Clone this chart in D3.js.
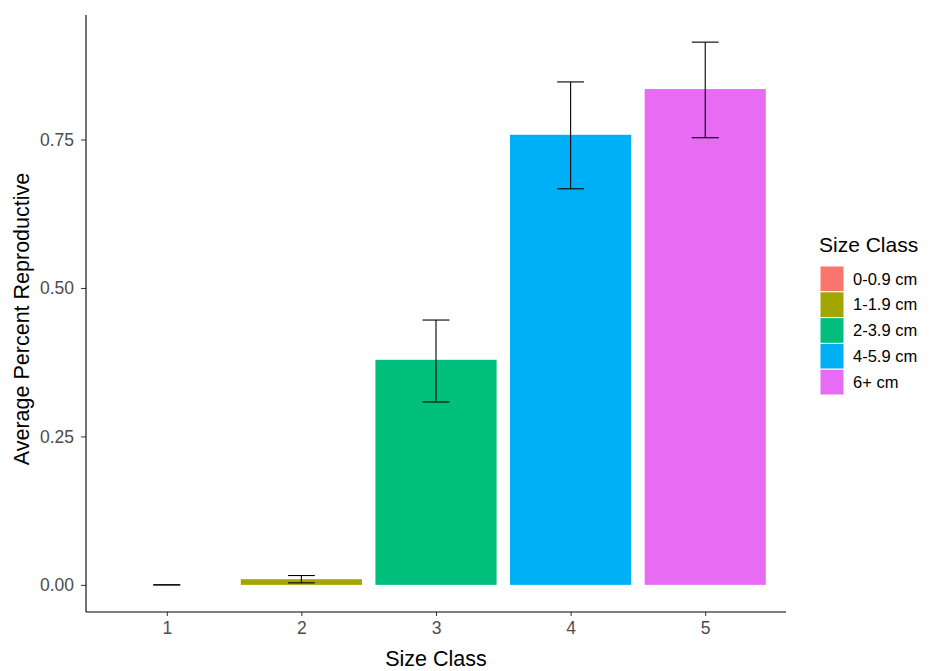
<!DOCTYPE html>
<html>
<head>
<meta charset="utf-8">
<script src="https://cdn.jsdelivr.net/npm/d3@7"></script>
<style>
  body { margin: 0; background: #fff; }
  text { font-family: "Liberation Sans", Arial, sans-serif; }
</style>
</head>
<body>
<svg></svg>
<script>
// size classes on the x axis and in the legend
var classes = ["1", "2", "3", "4", "5"];
var classLabels = ["0-0.9 cm", "1-1.9 cm", "2-3.9 cm", "4-5.9 cm", "6+ cm"];
// average percent reproductive, with lower / upper error bar ends
var means = [0, 0.0095, 0.379, 0.758, 0.835];
var lower = [0, 0.0034, 0.308, 0.667, 0.753];
var upper = [0, 0.0157, 0.446, 0.847, 0.914];
var yTicks = [0, 0.25, 0.5, 0.75];
var colors = ["#F8766D", "#A3A500", "#00BF7D", "#00B0F6", "#E76BF3"];

var svgWidth = 939, svgHeight = 671;
var panel = {left: 86, right: 786, top: 15, bottom: 612};

var svg = d3.select("svg")
    .attr("width", svgWidth)
    .attr("height", svgHeight);

// discrete x scale, with ggplot's 0.6 unit padding on both sides
var xScale = d3.scaleLinear()
    .domain([0.4, classes.length + 0.6])
    .range([panel.left, panel.right]);

// y scale expanded 5% past the data range
var yMax = d3.max(upper);
var pad = yMax * 0.05;
var yScale = d3.scaleLinear()
    .domain([-pad, yMax + pad])
    .range([panel.bottom, panel.top]);

var barW = 0.9, capW = 0.2;

// bars
svg.selectAll("rect.bar")
    .data(means)
    .enter()
    .append("rect")
    .attr("class", "bar")
    .attr("x", function(d, i) { return xScale(i + 1 - barW / 2); })
    .attr("width", function() { return xScale(barW) - xScale(0); })
    .attr("y", function(d) { return yScale(d); })
    .attr("height", function(d) { return yScale(0) - yScale(d); })
    .attr("fill", function(d, i) { return colors[i]; });

// error bars
var err = svg.selectAll("g.err")
    .data(means)
    .enter()
    .append("g")
    .attr("class", "err")
    .attr("stroke", "#000")
    .attr("stroke-width", 1.1)
    .attr("fill", "none");

err.append("line")
    .attr("x1", function(d, i) { return xScale(i + 1); })
    .attr("x2", function(d, i) { return xScale(i + 1); })
    .attr("y1", function(d, i) { return yScale(lower[i]); })
    .attr("y2", function(d, i) { return yScale(upper[i]); });
err.append("line")
    .attr("x1", function(d, i) { return xScale(i + 1 - capW / 2); })
    .attr("x2", function(d, i) { return xScale(i + 1 + capW / 2); })
    .attr("y1", function(d, i) { return yScale(upper[i]); })
    .attr("y2", function(d, i) { return yScale(upper[i]); });
err.append("line")
    .attr("x1", function(d, i) { return xScale(i + 1 - capW / 2); })
    .attr("x2", function(d, i) { return xScale(i + 1 + capW / 2); })
    .attr("y1", function(d, i) { return yScale(lower[i]); })
    .attr("y2", function(d, i) { return yScale(lower[i]); });

// axes
var xAxis = d3.axisBottom(xScale)
    .tickValues(classes.map(Number))
    .tickFormat(function(d) { return classes[d - 1]; })
    .tickSize(4).tickPadding(4);
var yAxis = d3.axisLeft(yScale)
    .tickValues(yTicks)
    .tickFormat(d3.format(".2f"))
    .tickSize(5).tickPadding(7);

var gx = svg.append("g")
    .attr("transform", "translate(0," + panel.bottom + ")")
    .call(xAxis);
var gy = svg.append("g")
    .attr("transform", "translate(" + panel.left + ",0)")
    .call(yAxis);

[gx, gy].forEach(function(g) {
    g.select(".domain").remove();
    g.selectAll(".tick line").attr("stroke", "#333").attr("stroke-width", 1);
    g.selectAll(".tick text")
        .attr("fill", "#4D4D4D")
        .style("font-size", "17.5px");
});
gx.selectAll(".tick text").attr("dy", "0.8em");

// axis lines
svg.append("line")
    .attr("x1", panel.left).attr("x2", panel.right)
    .attr("y1", panel.bottom).attr("y2", panel.bottom)
    .attr("stroke", "#000").attr("stroke-width", 1.1);
svg.append("line")
    .attr("x1", panel.left).attr("x2", panel.left)
    .attr("y1", panel.top).attr("y2", panel.bottom)
    .attr("stroke", "#000").attr("stroke-width", 1.1);

// axis titles
svg.append("text")
    .attr("x", (panel.left + panel.right) / 2)
    .attr("y", 666)
    .attr("text-anchor", "middle")
    .style("font-size", "21.5px")
    .text("Size Class");
svg.append("text")
    .attr("transform", "translate(28.5,319) rotate(-90)")
    .attr("text-anchor", "middle")
    .style("font-size", "21.5px")
    .text("Average Percent Reproductive");

// legend
var legend = svg.append("g").attr("transform", "translate(820,266)");
legend.append("text")
    .attr("x", -1).attr("y", -14)
    .style("font-size", "21px")
    .text("Size Class");
var keyH = 25.8;
var keys = legend.selectAll("g.key")
    .data(classLabels)
    .enter()
    .append("g")
    .attr("transform", function(d, i) { return "translate(0," + (i * keyH) + ")"; });
keys.append("rect")
    .attr("width", 24).attr("height", keyH)
    .attr("stroke", "#fff").attr("stroke-width", 1)
    .attr("fill", function(d, i) { return colors[i]; });
keys.append("text")
    .attr("x", 33).attr("y", keyH / 2)
    .attr("dy", "0.35em")
    .style("font-size", "16.5px")
    .attr("fill", "#000")
    .text(function(d) { return d; });
</script>
</body>
</html>
